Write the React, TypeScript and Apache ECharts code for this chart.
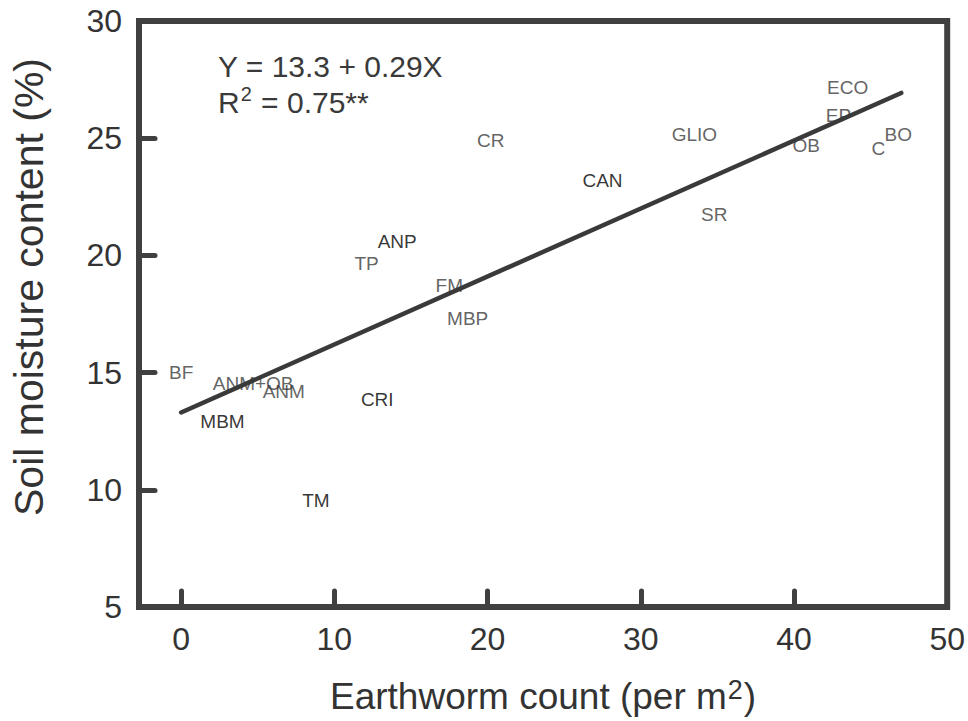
import React, { useEffect, useRef } from "react";
import * as echarts from "echarts";

const siteNames = ["BF", "ANM+OB", "ANM", "MBM", "CRI", "TM", "MBP", "FM", "TP", "ANP", "CR", "CAN", "GLIO", "SR", "OB", "EP", "ECO", "C", "BO"];
const earthwormCount = [0, 4.7, 6.7, 2.7, 12.8, 8.8, 18.7, 17.5, 12.1, 14.1, 20.2, 27.5, 33.5, 34.8, 40.8, 42.9, 43.5, 45.5, 46.8];
const soilMoisture = [15.0, 14.55, 14.2, 12.9, 13.85, 9.55, 17.3, 18.7, 19.65, 20.6, 24.9, 23.2, 25.15, 21.75, 24.7, 25.95, 27.15, 24.55, 25.15];
const blackLabels = ["ANP", "CAN", "CRI", "MBM", "TM"];

const regressionX = [0, 47];
const regressionY = [13.3, 26.93];

const xTicks = [0, 10, 20, 30, 40, 50];

const FONT = "'Liberation Sans', Arial, sans-serif";
const INK = "#404040";

export default function App() {
  const ref = useRef<HTMLDivElement>(null);
  useEffect(() => {
    document.body.style.margin = "0";
    if (!ref.current) return;
    const chart = echarts.init(ref.current, undefined, { renderer: "svg" });
    const points = siteNames.map((n, i) => ({
      name: n,
      value: [earthwormCount[i], soilMoisture[i]],
      label: { color: blackLabels.includes(n) ? "#000" : "#3a3a3a" },
    }));
    chart.setOption({
      animation: false,
      backgroundColor: "#fff",
      grid: {
        left: 139,
        right: 20,
        top: 21,
        bottom: 114,
        show: true,
        borderColor: INK,
        borderWidth: 6,
        backgroundColor: "transparent",
      },
      xAxis: {
        type: "value",
        min: -2.75,
        max: 50,
        splitLine: { show: false },
        axisLine: { show: false, onZero: false },
        axisTick: {
          show: true,
          inside: true,
          length: 16,
          customValues: xTicks,
          lineStyle: { color: INK, width: 5, cap: "round" },
        },
        axisLabel: {
          customValues: xTicks,
          fontFamily: FONT,
          fontSize: 32,
          color: "#333",
          margin: 16,
        },
        name: "{a|Earthworm count (per m}{s|2}{a|)}",
        nameLocation: "middle",
        nameGap: 69,
        nameTextStyle: {
          fontFamily: FONT,
          fontSize: 37,
          color: "#333",
          rich: {
            a: { fontFamily: FONT, fontSize: 37, color: "#333", lineHeight: 40 },
            s: { fontFamily: FONT, fontSize: 27, color: "#333", verticalAlign: "top", lineHeight: 27, padding: [0, 1, 0, 1] },
          },
        },
      },
      yAxis: {
        type: "value",
        min: 5,
        max: 30,
        interval: 5,
        splitLine: { show: false },
        axisLine: { show: false, onZero: false },
        axisTick: {
          show: true,
          inside: true,
          length: 16,
          lineStyle: { color: INK, width: 5, cap: "round" },
        },
        axisLabel: {
          fontFamily: FONT,
          fontSize: 32,
          color: "#333",
          margin: 17,
        },
        name: "Soil moisture content (%)",
        nameLocation: "middle",
        nameGap: 90,
        nameTextStyle: { fontFamily: FONT, fontSize: 41, color: "#333", padding: [0, 0, 0, 54] },
      },
      graphic: [
        {
          type: "text",
          x: 218,
          y: 48,
          z: 10,
          style: {
            text: "{a|Y = 13.3 + 0.29X}\n{a|R}{s|2}{a| = 0.75**}",
            fill: "#3a3a3a",
            align: "left",
            verticalAlign: "top",
            rich: {
              a: { fontFamily: FONT, fontSize: 30, lineHeight: 36, fill: "#3a3a3a" },
              s: { fontFamily: FONT, fontSize: 20, lineHeight: 20, verticalAlign: "top", fill: "#3a3a3a", padding: [0, 1, 0, 1] },
            },
          },
        },
      ],
      series: [
        {
          type: "scatter",
          z: 2,
          symbolSize: 0,
          data: points,
          label: {
            show: true,
            position: "inside",
            formatter: "{b}",
            fontFamily: FONT,
            fontSize: 19,
          },
        },
        {
          type: "line",
          z: 3,
          symbol: "none",
          data: regressionX.map((x, i) => [x, regressionY[i]]),
          lineStyle: { color: "#3a3a3a", width: 4.5, cap: "round" },
        },
      ],
    });
    return () => chart.dispose();
  }, []);
  return <div ref={ref} style={{ width: 968, height: 721 }} />;
}
